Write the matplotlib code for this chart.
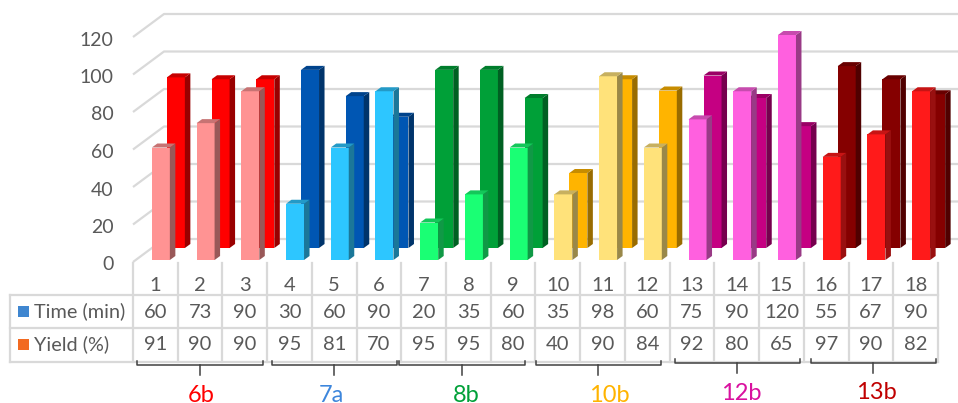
# Recreates the 3D-style bar chart with data table and group brackets.

import matplotlib
matplotlib.use("Agg")
import matplotlib.pyplot as plt
import matplotlib.colors as mcolors
from matplotlib.patches import Polygon, Rectangle
from matplotlib.transforms import ScaledTranslation

plt.rcParams['font.family'] = ['Lato', 'DejaVu Sans']

runs = list(range(1, 19))
time_min = [60, 73, 90, 30, 60, 90, 20, 35, 60, 35, 98, 60, 75, 90, 120, 55, 67, 90]
yield_pct = [91, 90, 90, 95, 81, 70, 95, 95, 80, 40, 90, 84, 92, 80, 65, 97, 90, 82]

groups = ["6b", "7a", "8b", "10b", "12b", "13b"]
group_colors = ["#FF0000", "#3D86DC", "#00A038", "#FFB400", "#D9119F", "#C00000"]
front_colors = ["#FF9393", "#2DC6FF", "#1AFF74", "#FFE27A", "#FF60DF", "#FF1A1A"]
back_colors = ["#FF0000", "#0056B3", "#00A038", "#FFB400", "#C50082", "#850000"]
y_ticks = [0, 20, 40, 60, 80, 100, 120]

W, H = 958, 403
x0, x1 = 133, 938          # table columns span
base_y, top_y = 260, 35    # pixel rows of value 0 and 120 for the front bars
col_w = (x1 - x0) / 18
px_x = 1 / col_w
px_y = 120 / (base_y - top_y)
GRID = "#D9D9D9"
TEXT = "#595959"


def shade(color, k):
    r, g, b = mcolors.to_rgb(color)
    return (r * k, g * k, b * k)


def bar3d(ax, x, h, color, bottom, z):
    # front face through ax.bar, then side and top faces next to it
    w = 18 * px_x
    dx, dy = 5.5 * px_x, 4 * px_y
    left = x - w / 2
    ax.bar(x, h, width=w, bottom=bottom, color=color, zorder=z, clip_on=False)
    t = bottom + h
    side = [(left + w, bottom), (left + w + dx, bottom + dy), (left + w + dx, t + dy), (left + w, t)]
    top = [(left, t), (left + dx, t + dy), (left + w + dx, t + dy), (left + w, t)]
    ax.add_patch(Polygon(side, closed=True, fc=shade(color, 0.6), ec="none", zorder=z, clip_on=False))
    ax.add_patch(Polygon(top, closed=True, fc=shade(color, 0.78), ec="none", zorder=z, clip_on=False))


fig = plt.figure(figsize=(W / 100, H / 100), dpi=100)
ax = fig.add_axes([x0 / W, 1 - base_y / H, (x1 - x0) / W, (base_y - top_y) / H])
ax.patch.set_alpha(0)
for s in ax.spines.values():
    s.set_visible(False)

# back wall gridlines and the slanted floor/side lines
for v in y_ticks:
    low = v - 2 * px_y
    up = low + 23 * px_y
    xs = [0.5, 0.5 + 31 * px_x, 0.5 + (W - x0) * px_x]
    ys = [low, up, up]
    ax.plot(xs, ys, color=GRID, lw=1.6, clip_on=False, zorder=1, solid_capstyle="butt")

for i, r in enumerate(runs):
    g = i // 3
    bar3d(ax, r + 20.5 * px_x, yield_pct[i], back_colors[g], 12 * px_y, 2)
for i, r in enumerate(runs):
    g = i // 3
    bar3d(ax, r + 5.5 * px_x, time_min[i], front_colors[g], 0, 3)

ax.set_xlim(0.5, 18.5)
ax.set_ylim(0, 120)
ax.set_yticks(y_ticks)
ax.set_xticks(runs)
ax.set_xticklabels([str(r) for r in runs])
ax.tick_params(axis="y", length=0, pad=14, labelsize=14, labelcolor=TEXT)
ax.tick_params(axis="x", length=0, pad=12, labelsize=14.5, labelcolor=TEXT)
for lbl in ax.get_yticklabels():
    lbl.set_transform(lbl.get_transform() + ScaledTranslation(0, -3.5 / 100, fig.dpi_scale_trans))

# pixel overlay for the data table and brackets
ov = fig.add_axes([0, 0, 1, 1], zorder=-1)
ov.set_xlim(0, W)
ov.set_ylim(H, 0)
ov.axis("off")

row_lines = [295, 328, 362]
for y in row_lines:
    ov.plot([10, x1], [y, y], color=GRID, lw=1.6)
ov.plot([10, 10], [295, 362], color=GRID, lw=1.6)
for i in range(19):
    xx = x0 + i * col_w
    ov.plot([xx, xx], [263, 362], color=GRID, lw=1.6)

row_y = [312, 345]
row_names = ["Time (min)", "Yield (%)"]
swatches = ["#3F86D0", "#F26A21"]
for y, name, c in zip(row_y, row_names, swatches):
    ov.add_patch(Rectangle((18, y - 6), 11, 11, fc=c, ec="none"))
    ov.text(34, y - 1, name, color=TEXT, fontsize=14.3, va="center", ha="left")
for i in range(18):
    cx = x0 + (i + 0.5) * col_w
    ov.text(cx, row_y[0], str(time_min[i]), color=TEXT, fontsize=14.5, ha="center", va="center")
    ov.text(cx, row_y[1], str(yield_pct[i]), color=TEXT, fontsize=14.5, ha="center", va="center")

# group brackets and labels
bracket_l = [137, 272, 399, 536, 675, 811]
bracket_r = [263, 397, 525, 661, 800, 936]
bracket_y = [361, 361, 361, 361, 359, 359]
label_x = [201, 331, 466, 609, 741, 876]
label_base = [402, 402, 402, 402, 400, 399]
for l, r, by, lx, ly, name, c in zip(bracket_l, bracket_r, bracket_y, label_x, label_base, groups, group_colors):
    mid = (l + r) / 2
    ov.plot([l, l, r, r], [by, by + 4, by + 4, by], color="#404040", lw=1.1)
    ov.plot([mid, mid], [by + 4, by + 14], color="#404040", lw=1.1)
    ov.text(lx, ly, name, color=c, fontsize=17, ha="center", va="baseline", clip_on=False)

fig.savefig("out.png", dpi=100)
